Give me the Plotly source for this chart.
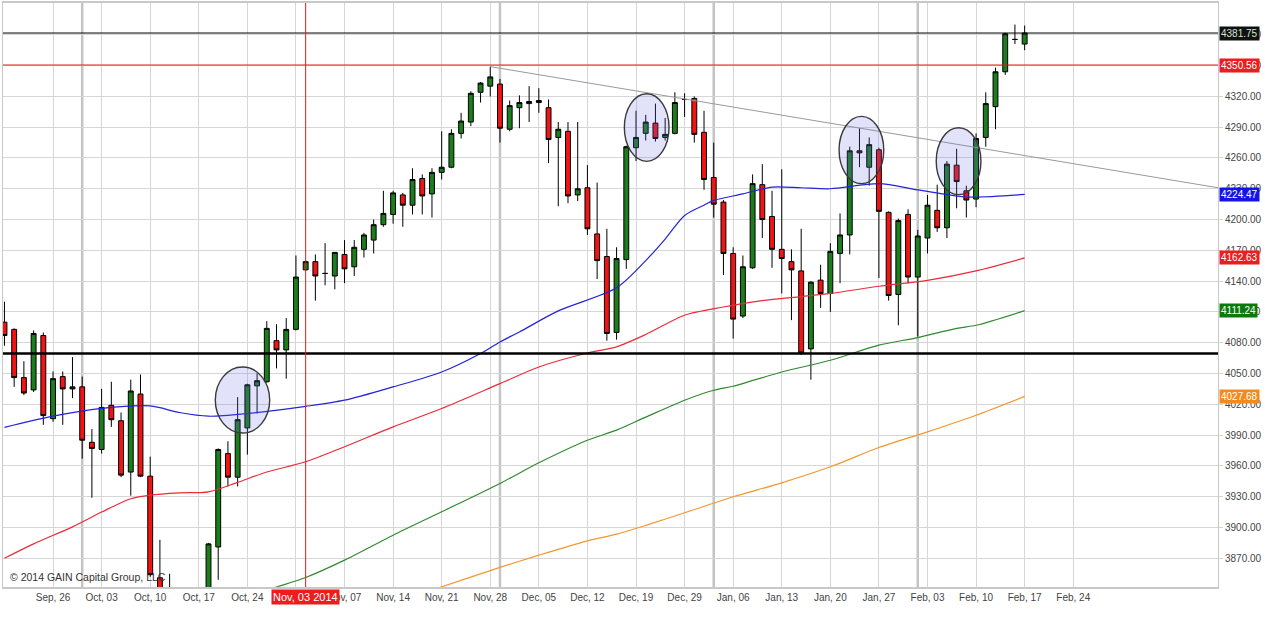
import plotly.graph_objects as go

# daily candles, Sep 19 2014 .. Feb 17 2015 (one entry per trading day)
opens = [4100, 4093, 4046, 4034, 4087, 4006, 4047, 4035, 4037, 3983,
         3976, 4019, 4004, 3954, 4030, 3950, 3851, 3812, 3785, 3770,
         3815, 3835, 3881, 3972, 3949, 3997, 4038, 4042, 4082, 4073,
         4093, 4151, 4159, 4147.5, 4145, 4166, 4154, 4171, 4180, 4195,
         4205, 4224, 4214, 4240, 4225, 4246, 4251, 4284, 4295, 4324,
         4330, 4332, 4288, 4309, 4313, 4314, 4309, 4280, 4286, 4224,
         4231, 4186, 4164, 4090, 4161, 4270, 4284, 4294, 4280, 4284,
         4317, 4318, 4285, 4241, 4217, 4167, 4106, 4153, 4234, 4203,
         4171, 4159, 4150, 4074, 4141, 4128, 4167, 4185, 4267, 4251,
         4268, 4207, 4127, 4205, 4144, 4182, 4209, 4192, 4253, 4228,
         4220, 4280, 4310, 4344, 4375.5, 4371]
highs = [4120, 4094, 4062, 4092, 4090, 4052, 4052, 4066, 4047, 3996,
         4035, 4042, 4012, 4044, 4049, 3969, 3888, 3855, 3830, 3835,
         3838, 3885, 3977, 3984, 4027, 4040, 4050, 4101, 4098, 4104,
         4165, 4160, 4166, 4177, 4168, 4180, 4180, 4187, 4200, 4228,
         4228, 4226, 4250, 4244, 4250, 4286, 4288, 4304, 4325, 4334,
         4349, 4337, 4316, 4321, 4330, 4328, 4317, 4295, 4295, 4295,
         4253, 4236, 4191, 4173, 4272, 4306, 4302, 4313, 4299, 4324,
         4323, 4320, 4306, 4275, 4219, 4173, 4165, 4244, 4254, 4228,
         4249, 4171, 4191, 4140, 4156, 4177, 4206, 4271, 4289, 4280,
         4270, 4208, 4201, 4210, 4190, 4224, 4234, 4257, 4269, 4233,
         4284, 4324, 4348, 4382, 4390, 4389]
lows = [4077, 4037, 4029, 4032, 4000, 4003, 4000, 4026, 3967, 3929,
        3972, 3998, 3949, 3931, 3949, 3852, 3790, 3770, 3720, 3745,
        3790, 3825, 3849, 3940, 3940, 3971, 4011, 4041, 4055, 4045,
        4092, 4150, 4121, 4136, 4132, 4138, 4145, 4163, 4167, 4193,
        4196, 4193, 4205, 4205, 4202, 4239, 4250, 4279, 4291, 4314,
        4320, 4275, 4286, 4289, 4295, 4304, 4255, 4213, 4216, 4218,
        4185, 4142, 4082, 4083, 4152, 4257, 4277, 4276, 4277, 4283,
        4300, 4275, 4229, 4202, 4146, 4084, 4104, 4152, 4182, 4153,
        4128, 4102, 4068, 4044, 4114, 4110, 4138, 4166, 4251, 4233,
        4143, 4121, 4097, 4138, 4086, 4167, 4188, 4182, 4211, 4202,
        4212, 4271, 4288, 4341, 4371, 4365]
closes = [4087, 4046, 4031, 4089, 4009, 4045, 4035, 4037, 3985, 3977,
          4017, 4005, 3951, 4033, 3950, 3854, 3800, 3790, 3760, 3815,
          3830, 3884, 3976, 3949, 4005, 4039, 4043, 4094, 4073, 4093,
          4144, 4159, 4145, 4147.5, 4168, 4152, 4173, 4185, 4195, 4206,
          4226, 4214, 4239, 4223, 4246, 4251, 4284, 4296, 4323, 4333,
          4339, 4289, 4311, 4314, 4315, 4316, 4278, 4288, 4223, 4230,
          4191, 4160, 4089, 4162, 4271, 4280, 4295, 4279, 4283, 4314,
          4317, 4283, 4239, 4215, 4167, 4103, 4154, 4235, 4200, 4171,
          4162, 4151, 4070, 4139, 4128, 4169, 4185, 4267, 4265, 4273,
          4208, 4126, 4199, 4144, 4184, 4214, 4192, 4254, 4237, 4219,
          4279, 4313, 4344, 4381, 4375.5, 4381.75]

# moving averages, read at a few days each (day number, value)
ma_blue_day = [0, 5, 10, 15, 18, 21, 25, 31, 35, 40, 45, 49, 51, 53, 57,
               63, 66, 68, 70, 72, 73, 76, 79, 82, 85, 90, 94, 99, 105]
ma_blue = [3997.5, 4008.4, 4016, 4018.4, 4012, 4008.4, 4011, 4018, 4024,
           4037, 4051.5, 4069.5, 4080.8, 4090.5, 4111, 4133.5, 4160, 4181,
           4204, 4214, 4218.7, 4225, 4231.7, 4231, 4230, 4235, 4229, 4222,
           4224.47]
ma_red_day = [0, 3, 7, 10, 13, 15, 18, 21, 24, 27, 31, 35, 40, 45, 51, 55,
              60, 63, 66, 70, 74, 78, 82, 85, 90, 95, 100, 105]
ma_red = [3870, 3884, 3900.6, 3915, 3928, 3931.5, 3933.7, 3934.7, 3944,
          3954, 3964, 3978.6, 3998, 4015.9, 4040.2, 4056.4, 4070, 4076,
          4088, 4106.8, 4114.8, 4121, 4125, 4128, 4135, 4140.8, 4150,
          4162.63]
ma_green_day = [24, 28, 31, 35, 40, 45, 51, 55, 60, 63, 66, 70, 73, 75, 80,
                85, 90, 94, 98, 100, 105]
ma_green = [3830, 3842, 3851.3, 3868.2, 3892.5, 3915.3, 3942.9, 3963, 3985,
            3994.8, 4007.5, 4024, 4033.7, 4037.6, 4051.5, 4062.9, 4077.6,
            4085, 4094, 4097, 4111.24]
ma_orange_day = [42, 45, 51, 55, 60, 63, 66, 70, 75, 80, 85, 90, 95, 100, 105]
ma_orange = [3833, 3842.2, 3861.1, 3873, 3887, 3893.5, 3902, 3914.3, 3929.9,
             3943.5, 3959.1, 3977.9, 3993.2, 4009.4, 4027.68]

# weekly x labels (every 5th trading day)
tick_days = [5, 10, 15, 20, 25, 30, 35, 40, 45, 50, 55, 60, 65, 70, 75, 80,
             85, 90, 95, 100, 105, 110]
tick_labels = ["Sep, 26", "Oct, 03", "Oct, 10", "Oct, 17", "Oct, 24",
               "Oct, 31", "Nov, 07", "Nov, 14", "Nov, 21", "Nov, 28",
               "Dec, 05", "Dec, 12", "Dec, 19", "Dec, 29", "Jan, 06",
               "Jan, 13", "Jan, 20", "Jan, 27", "Feb, 03", "Feb, 10",
               "Feb, 17", "Feb, 24"]
month_start_days = [8, 51, 73, 94]

level_top = 4381.75
level_red = 4350.56
level_support = 4069.5
trend_day = [50, 124.9]
trend_val = [4349, 4231]
marker_day = 31
marker_label = "Nov, 03 2014"

# price boxes on the right edge: (value, background, text colour)
price_tags = [(4381.75, "#111111", "#cfe6cf"), (4350.56, "#ee1c1c", "white"),
              (4224.47, "#1414e6", "white"), (4162.63, "#ee1c1c", "white"),
              (4111.24, "#0b7a0b", "white"), (4027.68, "#f28a1e", "white")]

# highlighted areas (day from, day to, low, high)
circles = [(21.7, 27.3, 3992, 4056.4), (63.8, 68.4, 4256.7, 4322.6),
           (85.9, 90.5, 4235, 4300.5), (95.9, 100.5, 4224.3, 4289.5)]

days = list(range(len(opens)))

fig = go.Figure()
fig.add_trace(go.Candlestick(
    x=days, open=opens, high=highs, low=lows, close=closes,
    increasing=dict(line=dict(color="black", width=1), fillcolor="#1c7d1c"),
    decreasing=dict(line=dict(color="black", width=1), fillcolor="#f01414"),
    whiskerwidth=0, showlegend=False,
))
for d, v, c in [(ma_blue_day, ma_blue, "#2323d8"),
                (ma_red_day, ma_red, "#ec2a3a"),
                (ma_green_day, ma_green, "#2f8a2f"),
                (ma_orange_day, ma_orange, "#f5962e")]:
    fig.add_trace(go.Scatter(x=d, y=v, mode="lines", showlegend=False,
                             line=dict(color=c, width=1.2, shape="spline",
                                       smoothing=0.8)))

shapes = []
for d in month_start_days:
    shapes.append(dict(type="line", xref="x", yref="paper", x0=d, x1=d,
                       y0=0, y1=1, layer="below",
                       line=dict(color="#c4c4c4", width=2.5)))
shapes.append(dict(type="line", xref="x", yref="y", x0=trend_day[0],
                   x1=trend_day[1], y0=trend_val[0], y1=trend_val[1],
                   line=dict(color="#9a9a9a", width=1)))
shapes.append(dict(type="line", xref="paper", yref="y", x0=0, x1=1,
                   y0=level_top, y1=level_top, line=dict(color="black", width=1)))
shapes.append(dict(type="line", xref="paper", yref="y", x0=0, x1=1,
                   y0=level_red, y1=level_red, line=dict(color="#e01818", width=1)))
shapes.append(dict(type="line", xref="paper", yref="y", x0=0, x1=1,
                   y0=level_support, y1=level_support,
                   line=dict(color="black", width=2.5)))
shapes.append(dict(type="line", xref="x", yref="paper", x0=marker_day,
                   x1=marker_day, y0=0, y1=1,
                   line=dict(color="#e01818", width=1)))
for x0, x1, y0, y1 in circles:
    shapes.append(dict(type="circle", xref="x", yref="y", x0=x0, x1=x1,
                       y0=y0, y1=y1, fillcolor="rgba(110,110,235,0.2)",
                       line=dict(color="#3a3a3a", width=1.4)))

annotations = []
for v, bg, fg in price_tags:
    annotations.append(dict(xref="paper", yref="y", x=1, y=v, xanchor="left",
                            yanchor="middle", xshift=1, showarrow=False,
                            text="%.2f" % v, bgcolor=bg, borderpad=1,
                            font=dict(color=fg, size=10,
                                      family="Liberation Sans")))
annotations.append(dict(xref="x", yref="paper", x=marker_day, y=0,
                        yanchor="top", yshift=-2, showarrow=False,
                        text=marker_label, bgcolor="#ee1c1c", borderpad=1,
                        font=dict(color="white", size=11,
                                  family="Liberation Sans")))
annotations.append(dict(xref="paper", yref="paper", x=0, y=0, xanchor="left",
                        yanchor="bottom", xshift=5, yshift=2, showarrow=False,
                        text="\u00a9 2014 GAIN Capital Group, LLC",
                        font=dict(color="#333333", size=10.5,
                                  family="Liberation Sans")))

fig.update_layout(
    width=1265, height=617,
    margin=dict(l=3, r=47, t=3, b=30, autoexpand=False),
    paper_bgcolor="white", plot_bgcolor="white",
    boxgap=0.28,
    shapes=shapes, annotations=annotations,
    font=dict(family="Liberation Sans", size=10, color="#444444"),
    xaxis=dict(range=[-0.15, 124.9], rangeslider=dict(visible=False),
               tickmode="array", tickvals=tick_days, ticktext=tick_labels,
               showgrid=True, gridcolor="#d6d6d6", gridwidth=1,
               showline=True, linecolor="#c8c8c8", linewidth=2, mirror=True,
               ticks="", tickfont=dict(size=10, color="#444444"),
               zeroline=False, fixedrange=True),
    yaxis=dict(range=[3842, 4411], side="right",
               tickmode="array", tickvals=list(range(3870, 4381, 30)),
               tickformat=".2f", showgrid=True, gridcolor="#d6d6d6",
               showline=True, linecolor="#c8c8c8", linewidth=1, mirror=True,
               ticks="outside", ticklen=4, tickcolor="#d6d6d6",
               tickfont=dict(size=10, color="#444444"), zeroline=False),
)

# the page is photographed at 0,0, so drop the browser's default body margin
fig.write_html("out.html", config={"displayModeBar": False},
               post_script="document.body.style.margin='0';")
